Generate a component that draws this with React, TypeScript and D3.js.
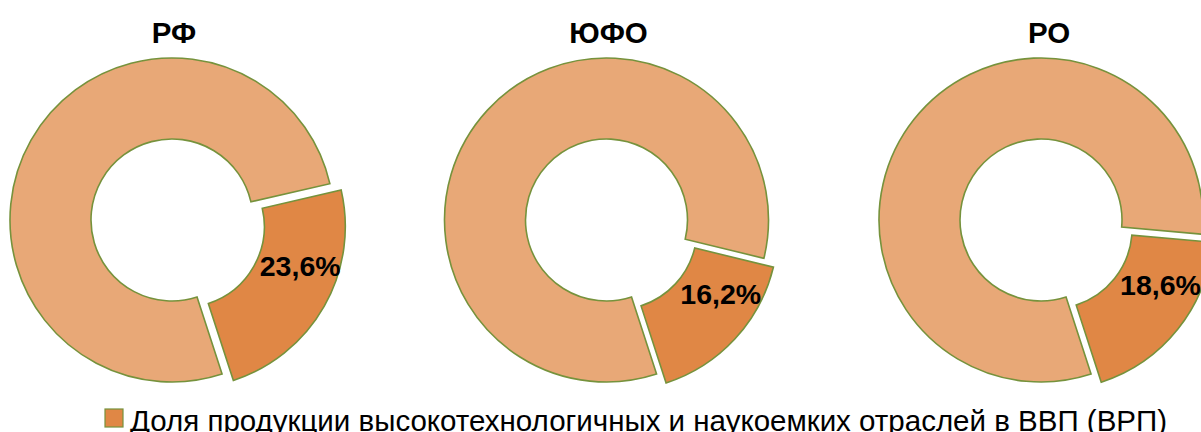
import React from "react";
import * as d3 from "d3";

// Share of high-tech and knowledge-intensive industries in GDP (GRP), %
const regions = ["РФ", "ЮФО", "РО"];
const shares = [23.6, 16.2, 18.6];
const labels = ["23,6%", "16,2%", "18,6%"];
const legendLabel = "Доля продукции высокотехнологичных и наукоемких отраслей в ВВП (ВРП)";

const W = 1201;
const H = 432;
const outerR = 162;
const innerR = 81;
const explode = 13;
const firstSliceAngle = (162 * Math.PI) / 180;

const colorRest = "#E8A877";
const colorShare = "#E08745";
const strokeColor = "#76923C";
const font = "'Liberation Sans', Arial, sans-serif";

const cxScale = d3.scalePoint<string>().domain(regions).range([172, 1041]);

export default function App() {
  const pie = d3
    .pie<number>()
    .sort(null)
    .value((d) => d)
    .startAngle(firstSliceAngle)
    .endAngle(firstSliceAngle + 2 * Math.PI);
  const arc = d3.arc<d3.PieArcDatum<number>>().innerRadius(innerR).outerRadius(outerR);

  return (
    <svg
      width={W}
      height={H}
      style={{ position: "absolute", left: 0, top: 0, background: "#fff" }}
      fontFamily={font}
    >
      {regions.map((name, i) => {
        const cx = cxScale(name) as number;
        const cy = 220;
        const slices = pie([100 - shares[i], shares[i]]);
        const share = slices[1];
        const mid = (share.startAngle + share.endAngle) / 2;
        const ox = explode * Math.sin(mid);
        const oy = -explode * Math.cos(mid);
        const labelAngle = mid - (10 * Math.PI) / 180;
        const labelR = 136;
        return (
          <g key={name}>
            <text
              x={name === "РО" ? cx + 8 : cx + 2}
              y={43}
              textAnchor="middle"
              fontWeight="bold"
              fontSize={29.5}
              fill="#000"
            >
              {name}
            </text>
            <g transform={`translate(${cx},${cy})`}>
              <path d={arc(slices[0]) ?? ""} fill={colorRest} stroke={strokeColor} strokeWidth={1.6} />
              <path
                d={arc(share) ?? ""}
                transform={`translate(${ox},${oy})`}
                fill={colorShare}
                stroke={strokeColor}
                strokeWidth={1.6}
              />
              <text
                x={labelR * Math.sin(labelAngle)}
                y={-labelR * Math.cos(labelAngle)}
                dy="0.36em"
                textAnchor="middle"
                fontWeight="bold"
                fontSize={28.5}
                fill="#000"
              >
                {labels[i]}
              </text>
            </g>
          </g>
        );
      })}
      <g transform="translate(105,409)">
        <rect width={18} height={18} fill={colorShare} stroke={strokeColor} strokeWidth={1.2} />
        <text x={25} y={22} fontSize={29.5} fill="#000">
          {legendLabel}
        </text>
      </g>
    </svg>
  );
}
